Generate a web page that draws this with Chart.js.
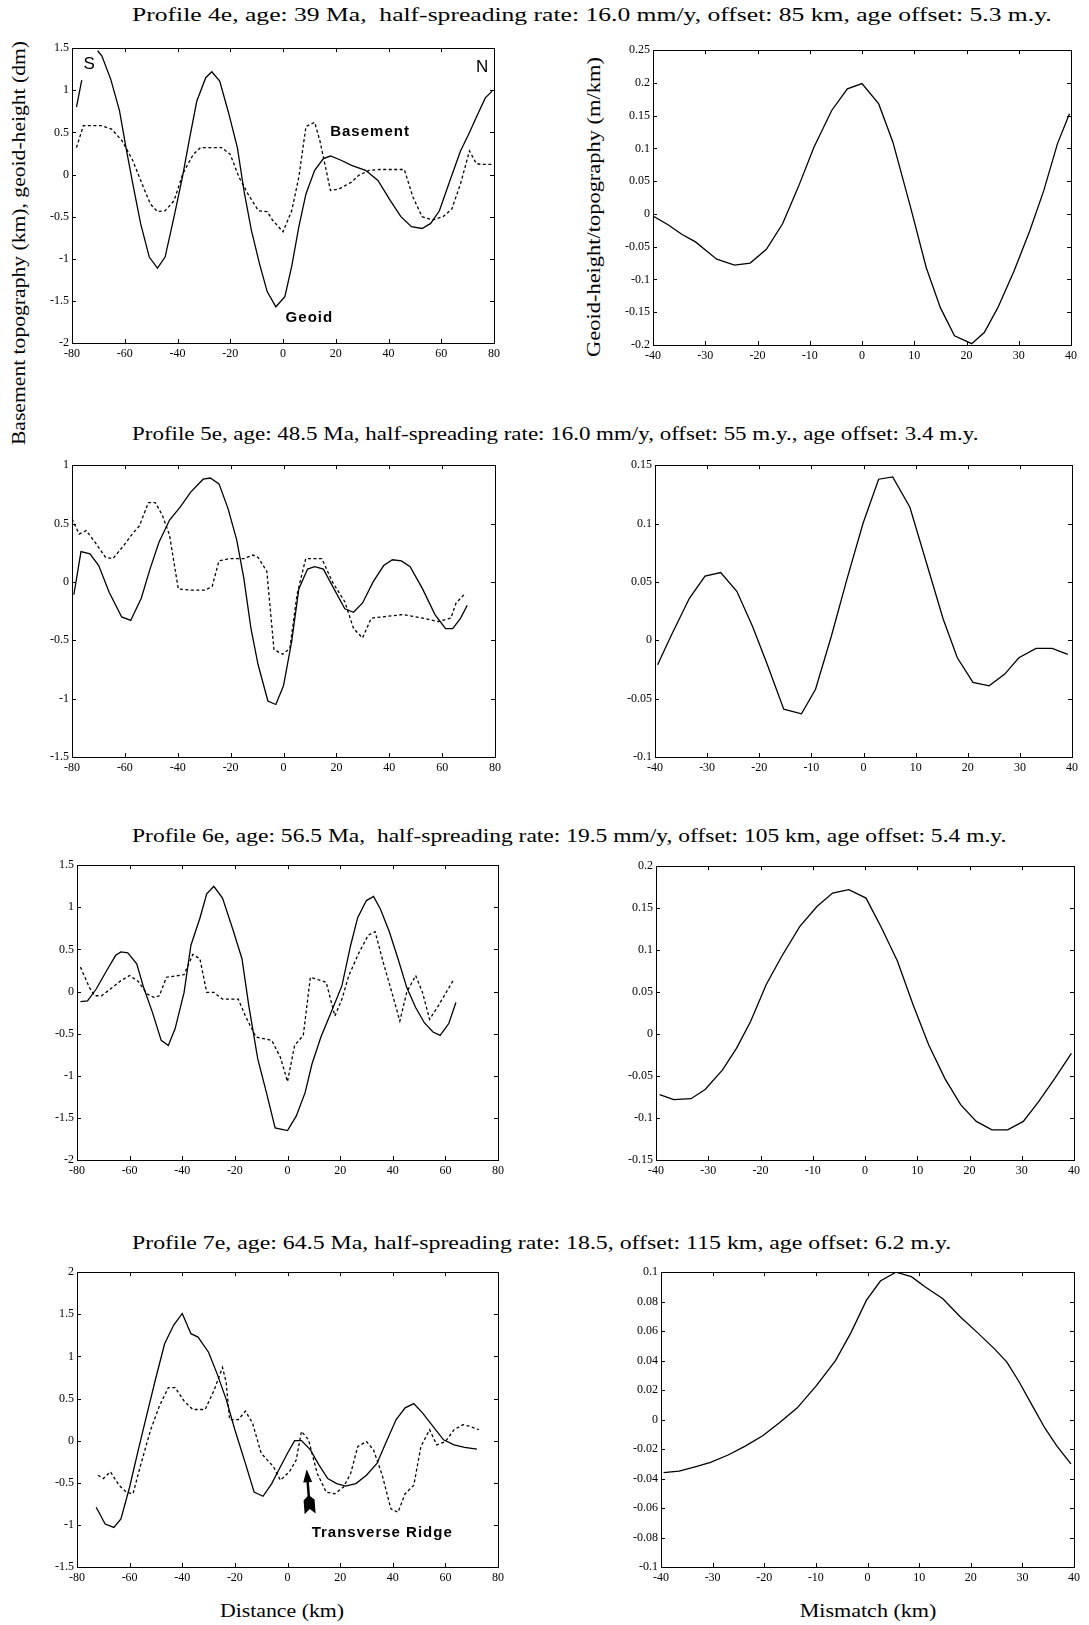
<!DOCTYPE html>
<html>
<head>
<meta charset="utf-8">
<script src="https://cdn.jsdelivr.net/npm/chart.js@4.4.0/dist/chart.umd.min.js"></script>
<style>
  html, body { margin: 0; padding: 0; background: #fff; }
  #page { position: relative; width: 1089px; height: 1625px; overflow: hidden; font-family: 'Liberation Serif', 'Times New Roman', serif; color: #000; }
  .panel { position: absolute; }
  .title { position: absolute; left: 132px; font-size: 19px; white-space: pre; transform-origin: left center; }
  .vlabel { position: absolute; font-size: 19px; white-space: nowrap; }
  .hlabel { position: absolute; font-size: 19px; white-space: nowrap; }
</style>
</head>
<body>
<div id="page">
  <div class="title" data-w="920" style="top:15px">Profile 4e, age: 39 Ma,  half-spreading rate: 16.0 mm/y, offset: 85 km, age offset: 5.3 m.y.</div>
  <div class="title" data-w="847" style="top:434px">Profile 5e, age: 48.5 Ma, half-spreading rate: 16.0 mm/y, offset: 55 m.y., age offset: 3.4 m.y.</div>
  <div class="title" data-w="875" style="top:836px">Profile 6e, age: 56.5 Ma,  half-spreading rate: 19.5 mm/y, offset: 105 km, age offset: 5.4 m.y.</div>
  <div class="title" data-w="819" style="top:1243px">Profile 7e, age: 64.5 Ma, half-spreading rate: 18.5, offset: 115 km, age offset: 6.2 m.y.</div>
  <div class="vlabel" data-w="404" style="left:19px; top:243px">Basement topography (km), geoid-height (dm)</div>
  <div class="vlabel" data-w="300" style="left:594px; top:207px">Geoid-height/topography (m/km)</div>
  <div class="hlabel" data-w="124" style="left:282px; top:1611px">Distance (km)</div>
  <div class="hlabel" data-w="137" style="left:868px; top:1611px">Mismatch (km)</div>
</div>
<script>
// tick values
const distTicks = [-80, -60, -40, -20, 0, 20, 40, 60, 80];
const lagTicks = [-40, -30, -20, -10, 0, 10, 20, 30, 40];
const p4eTopoTicks = [-2, -1.5, -1, -0.5, 0, 0.5, 1, 1.5];
const p4eRatioTicks = [-0.2, -0.15, -0.1, -0.05, 0, 0.05, 0.1, 0.15, 0.2, 0.25];
const p5eTopoTicks = [-1.5, -1, -0.5, 0, 0.5, 1];
const p5eRatioTicks = [-0.1, -0.05, 0, 0.05, 0.1, 0.15];
const p6eTopoTicks = [-2, -1.5, -1, -0.5, 0, 0.5, 1, 1.5];
const p6eRatioTicks = [-0.15, -0.1, -0.05, 0, 0.05, 0.1, 0.15, 0.2];
const p7eTopoTicks = [-1.5, -1, -0.5, 0, 0.5, 1, 1.5, 2];
const p7eRatioTicks = [-0.1, -0.08, -0.06, -0.04, -0.02, 0, 0.02, 0.04, 0.06, 0.08, 0.1];

// Profile 4e
const p4eGeoidKm = [-78.3, -76.3, -74, -70.3, -68.7, -65.3, -62, -59.3, -56.7, -54, -50.7, -47.6, -44.7, -41.3, -38, -35.6, -32.7, -29.3, -27, -24, -20.7, -17.3, -14.7, -12, -8.9, -6, -2.7, 0.7, 3.3, 6, 8.7, 12, 15.3, 18, 22, 26, 31.3, 36, 40.7, 44.7, 48.7, 52.7, 56, 59.3, 63.3, 67.3, 70.7, 73.3, 76.7, 79.3];
const p4eGeoid = [0.80, 1.12, null, 1.47, 1.41, 1.13, 0.76, 0.28, -0.15, -0.58, -0.98, -1.11, -0.98, -0.50, -0.01, 0.40, 0.87, 1.15, 1.22, 1.11, 0.74, 0.32, -0.21, -0.66, -1.06, -1.39, -1.57, -1.45, -1.09, -0.62, -0.23, 0.05, 0.19, 0.22, 0.17, 0.11, 0.05, -0.07, -0.31, -0.50, -0.62, -0.64, -0.58, -0.43, -0.07, 0.28, 0.50, 0.68, 0.91, 0.99];
const p4eBaseKm = [-78.3, -75.7, -69, -65, -61, -57, -53.7, -50.3, -47.6, -44.7, -41.3, -38, -34, -31.3, -23.3, -20, -16.7, -13.3, -9.3, -6, -4, 0, 3.3, 6, 8.7, 12, 14, 18, 21.3, 26, 28.7, 32.7, 36.7, 46, 49.3, 52.7, 56.7, 60.7, 64, 67.3, 70.7, 73.3, 75.3, 79.3];
const p4eBase = [0.32, 0.58, 0.58, 0.54, 0.40, 0.17, -0.09, -0.35, -0.44, -0.43, -0.31, 0.01, 0.24, 0.32, 0.32, 0.24, -0.03, -0.23, -0.43, -0.44, -0.54, -0.68, -0.43, -0.03, 0.57, 0.62, 0.40, -0.19, -0.17, -0.09, -0.01, 0.05, 0.06, 0.06, -0.27, -0.50, -0.54, -0.50, -0.41, -0.11, 0.28, 0.13, 0.12, 0.12];
const p4eLagKm = [-40, -37.2, -34.5, -31.8, -29.8, -27.8, -24.4, -21.4, -18.3, -15.2, -12.2, -9.2, -5.8, -2.8, 0, 3.2, 5.9, 9.3, 12.3, 15, 17.7, 21, 23.4, 26, 29.1, 32.1, 34.8, 37.4, 39.7];
const p4eRatio = [-0.003, -0.016, -0.031, -0.043, -0.056, -0.069, -0.078, -0.075, -0.054, -0.015, 0.041, 0.102, 0.158, 0.191, 0.199, 0.168, 0.110, 0.010, -0.082, -0.143, -0.186, -0.198, -0.181, -0.143, -0.087, -0.026, 0.036, 0.107, 0.153];

// Profile 5e
const p5eGeoidKm = [-79.3, -76.6, -73.2, -69.9, -65.9, -61.2, -57.8, -53.8, -50.5, -47.1, -43.1, -39.1, -35.1, -30.4, -27.7, -24.4, -21, -17.7, -15, -12.3, -9.6, -5.9, -2.9, 0, 3.1, 5.8, 9.1, 11.8, 15.1, 19.1, 23.2, 26.5, 29.9, 33.9, 37.9, 41.2, 44.6, 47.9, 52.6, 57.3, 61.3, 64, 67, 69.5];
const p5eGeoid = [-0.11, 0.26, 0.24, 0.14, -0.09, -0.30, -0.33, -0.14, 0.11, 0.34, 0.53, 0.64, 0.77, 0.88, 0.89, 0.84, 0.63, 0.36, 0.03, -0.40, -0.71, -1.02, -1.05, -0.89, -0.51, -0.06, 0.11, 0.13, 0.11, -0.06, -0.23, -0.26, -0.18, 0.0, 0.14, 0.19, 0.18, 0.13, -0.06, -0.28, -0.40, -0.40, -0.31, -0.20];
const p5eBaseKm = [-80, -77.3, -74.6, -71.3, -67.3, -64.5, -60.5, -57.2, -54.5, -51.1, -48.5, -45.8, -43.1, -39.8, -35.1, -29.7, -27, -24.4, -20.3, -15, -11.6, -9.6, -6.3, -3.6, -0.3, 2.4, 5.1, 8.4, 14.5, 18.5, 23.2, 26.5, 29.9, 33.2, 37.2, 45.2, 52.6, 58.6, 63.3, 65.3, 68.7];
const p5eBase = [0.54, 0.41, 0.44, 0.34, 0.21, 0.20, 0.31, 0.41, 0.48, 0.68, 0.68, 0.57, 0.40, -0.06, -0.07, -0.07, -0.04, 0.18, 0.20, 0.20, 0.23, 0.21, 0.09, -0.58, -0.62, -0.57, -0.11, 0.20, 0.20, 0.0, -0.17, -0.40, -0.48, -0.31, -0.30, -0.28, -0.31, -0.34, -0.31, -0.18, -0.10];
const p5eLagKm = [-39.5, -36.8, -33.4, -30.4, -27.4, -24.3, -21.3, -18.6, -15.3, -11.9, -9.2, -6.2, -3.2, -0.1, 2.9, 5.6, 8.9, 12.3, 15.3, 18, 21, 24.1, 27.1, 29.8, 33.1, 36.2, 39.2];
const p5eRatio = [-0.021, 0.005, 0.036, 0.055, 0.058, 0.042, 0.012, -0.019, -0.059, -0.063, -0.042, 0.003, 0.052, 0.100, 0.138, 0.140, 0.114, 0.063, 0.018, -0.015, -0.036, -0.039, -0.029, -0.015, -0.007, -0.007, -0.012];

// Profile 6e
const p6eGeoidKm = [-78.7, -76, -72.7, -68.7, -65.3, -63.3, -60.7, -57.3, -54.7, -51.3, -48, -45.3, -42.7, -39.3, -36.7, -33.3, -30.7, -28, -24.7, -20.7, -17.3, -14.7, -11.3, -8, -4.7, 0, 3.3, 6.7, 9.3, 12.7, 16, 20.7, 24, 26.7, 30, 32.7, 35.3, 38.7, 42, 45.3, 48.7, 52, 55.3, 58, 61.3, 64];
const p6eGeoid = [-0.12, -0.11, 0.03, 0.25, 0.43, 0.47, 0.46, 0.33, 0.05, -0.25, -0.58, -0.64, -0.44, -0.01, 0.55, 0.87, 1.16, 1.25, 1.11, 0.73, 0.39, -0.17, -0.80, -1.20, -1.62, -1.65, -1.48, -1.20, -0.86, -0.54, -0.29, 0.07, 0.55, 0.88, 1.08, 1.13, 0.98, 0.71, 0.39, 0.05, -0.19, -0.37, -0.48, -0.52, -0.38, -0.13];
const p6eBaseKm = [-78.7, -75.3, -73.3, -70.7, -67.3, -63.3, -60, -56.7, -53.3, -50.7, -48.7, -46, -39.3, -36, -33.3, -30.7, -28, -24.7, -18.7, -16, -12, -6, -2.7, 0, 2.7, 6, 8.7, 14.7, 18, 20.7, 23.3, 27.3, 30.7, 33.3, 36.7, 39.3, 42.7, 45.3, 48.7, 51.3, 54, 57.3, 60.7, 63.3];
const p6eBase = [0.29, 0.05, -0.05, -0.05, 0.03, 0.13, 0.19, 0.12, -0.03, -0.07, -0.05, 0.17, 0.20, 0.44, 0.39, -0.01, -0.01, -0.09, -0.09, -0.29, -0.54, -0.58, -0.78, -1.07, -0.64, -0.52, 0.17, 0.11, -0.29, -0.09, 0.19, 0.47, 0.67, 0.71, 0.31, 0.03, -0.35, -0.01, 0.19, -0.01, -0.33, -0.17, 0.01, 0.15];
const p6eLagKm = [-39.3, -36.6, -33.3, -30.6, -27.3, -24.6, -21.9, -18.9, -15.9, -12.5, -9.2, -6.2, -3.1, 0.2, 3.2, 6.2, 9.2, 12.2, 15.3, 18.3, 21.3, 24.3, 27.3, 30.3, 33.3, 36.3, 39.5];
const p6eRatio = [-0.072, -0.078, -0.077, -0.066, -0.043, -0.017, 0.015, 0.059, 0.093, 0.128, 0.152, 0.168, 0.172, 0.162, 0.126, 0.087, 0.035, -0.013, -0.053, -0.084, -0.104, -0.114, -0.114, -0.104, -0.080, -0.053, -0.023];

// Profile 7e
const p7eGeoidKm = [-72.7, -69.3, -66, -63.3, -60, -56.7, -53.3, -50, -46.7, -43.3, -40, -36.7, -34, -30, -26.7, -23.3, -20, -16, -12.7, -9.3, -6, -2.7, 0, 2.7, 5.3, 8.7, 12, 15.3, 18.7, 22, 26, 30, 34, 37.3, 41.3, 44.7, 48, 51.3, 55.3, 59.3, 63.3, 67.3, 72];
const p7eGeoid = [-0.79, -0.99, -1.03, -0.93, -0.55, -0.11, 0.33, 0.75, 1.15, 1.37, 1.51, 1.27, 1.23, 1.05, 0.79, 0.49, 0.13, -0.27, -0.61, -0.66, -0.51, -0.31, -0.15, 0.0, 0.0, -0.11, -0.29, -0.45, -0.51, -0.54, -0.51, -0.41, -0.27, -0.03, 0.25, 0.39, 0.44, 0.33, 0.17, 0.01, -0.05, -0.08, -0.10];
const p7eBaseKm = [-72, -70, -67.3, -64, -61.3, -58.7, -56, -52, -48.7, -45.3, -42.7, -39.3, -36, -31.3, -28, -24.7, -23.3, -22, -18.7, -16, -13.3, -10, -5.3, -2.7, 0.7, 3.3, 5.3, 8, 11.3, 14.7, 18, 21.3, 24, 26.7, 30, 32.7, 36, 39.3, 42, 44.7, 48, 50.7, 54, 56.7, 60, 63.3, 66.7, 69.3, 72.7];
const p7eBase = [-0.41, -0.45, -0.37, -0.53, -0.61, -0.63, -0.31, 0.13, 0.41, 0.63, 0.63, 0.47, 0.37, 0.37, 0.59, 0.87, 0.69, 0.25, 0.25, 0.35, 0.21, -0.15, -0.31, -0.47, -0.37, -0.23, 0.11, 0.01, -0.39, -0.61, -0.63, -0.55, -0.39, -0.07, -0.01, -0.11, -0.41, -0.81, -0.85, -0.63, -0.53, -0.07, 0.13, -0.05, -0.01, 0.13, 0.19, 0.17, 0.13];
const p7eLagKm = [-39.5, -36.5, -33.4, -30.4, -27, -23.7, -20.3, -17, -13.6, -9.9, -6.2, -3.2, -0.2, 2.5, 5.5, 8.5, 11.2, 14.6, 17.9, 21.3, 24.6, 27, 29.3, 32, 34.4, 36.7, 39.4];
const p7eRatio = [-0.036, -0.035, -0.032, -0.029, -0.024, -0.018, -0.011, -0.002, 0.008, 0.023, 0.040, 0.059, 0.081, 0.094, 0.100, 0.097, 0.090, 0.082, 0.070, 0.059, 0.048, 0.039, 0.026, 0.009, -0.006, -0.018, -0.030];

const PAD = { l: 40, t: 10, r: 12, b: 22 };
const fmt = v => String(Number(Number(v).toFixed(3)));
const zip = (xs, ys) => xs.map((x, i) => ({ x: x, y: ys[i] }));

// the serif captions are set wide; stretch each one to its measured width
document.querySelectorAll('[data-w]').forEach(el => {
  const k = Number(el.dataset.w) / el.offsetWidth;
  if (el.classList.contains('title')) el.style.transform = `translateY(-50%) scaleX(${k})`;
  else if (el.classList.contains('vlabel')) el.style.transform = `translate(-50%, -50%) rotate(-90deg) scaleX(${k})`;
  else el.style.transform = `translate(-50%, -50%) scaleX(${k})`;
});

// box, inner ticks on all four sides, text labels and the ridge arrow
const framePlugin = {
  id: 'frame',
  afterDatasetsDraw(chart, args, opts) {
    const { ctx, chartArea: a, scales: { x, y } } = chart;
    ctx.save();
    ctx.strokeStyle = '#000';
    ctx.lineWidth = 1;
    ctx.strokeRect(Math.round(a.left) + 0.5, Math.round(a.top) + 0.5, Math.round(a.width), Math.round(a.height));
    ctx.beginPath();
    x.ticks.forEach(t => {
      const px = Math.round(x.getPixelForValue(t.value)) + 0.5;
      ctx.moveTo(px, a.bottom); ctx.lineTo(px, a.bottom - 4);
      ctx.moveTo(px, a.top); ctx.lineTo(px, a.top + 4);
    });
    y.ticks.forEach(t => {
      const py = Math.round(y.getPixelForValue(t.value)) + 0.5;
      ctx.moveTo(a.left, py); ctx.lineTo(a.left + 4, py);
      ctx.moveTo(a.right, py); ctx.lineTo(a.right - 4, py);
    });
    ctx.stroke();

    (opts.marks || []).forEach(m => {
      ctx.font = m.font;
      ctx.fillStyle = '#000';
      ctx.textAlign = 'center';
      ctx.textBaseline = 'middle';
      if ('letterSpacing' in ctx) ctx.letterSpacing = (m.spacing || 0) + 'px';
      ctx.fillText(m.text, x.getPixelForValue(m.x), y.getPixelForValue(m.y));
      if ('letterSpacing' in ctx) ctx.letterSpacing = '0px';
    });

    if (opts.arrow) {
      const ar = opts.arrow;
      const tx = x.getPixelForValue(ar.tip[0]), ty = y.getPixelForValue(ar.tip[1]);
      const bx = x.getPixelForValue(ar.tail[0]), by = y.getPixelForValue(ar.tail[1]);
      const len = Math.hypot(tx - bx, ty - by);
      const ux = (tx - bx) / len, uy = (ty - by) / len;
      const nx = -uy, ny = ux;
      const P = (s, n) => [bx + ux * s + nx * n, by + uy * s + ny * n];
      ctx.fillStyle = '#000';
      // shaft
      ctx.lineWidth = 2.5;
      ctx.beginPath();
      ctx.moveTo(...P(10, 0)); ctx.lineTo(...P(len - 10, 0));
      ctx.stroke();
      // head
      ctx.beginPath();
      ctx.moveTo(...P(len, 0)); ctx.lineTo(...P(len - 13, 4.5)); ctx.lineTo(...P(len - 13, -4.5));
      ctx.closePath(); ctx.fill();
      // fletching
      ctx.beginPath();
      ctx.moveTo(...P(0, 5.5)); ctx.lineTo(...P(5, 0)); ctx.lineTo(...P(0, -5.5));
      ctx.lineTo(...P(14, -5.5)); ctx.lineTo(...P(19, 0)); ctx.lineTo(...P(14, 5.5));
      ctx.closePath(); ctx.fill();
    }
    ctx.restore();
  }
};
Chart.register(framePlugin);

function axis(ticks, isX) {
  return {
    type: 'linear',
    min: ticks[0],
    max: ticks[ticks.length - 1],
    afterBuildTicks: s => { s.ticks = ticks.map(v => ({ value: v })); },
    afterFit: s => { if (isX) s.height = PAD.b; else s.width = PAD.l; },
    grid: { display: false, drawTicks: false },
    border: { display: false },
    ticks: {
      autoSkip: false,
      maxRotation: 0,
      padding: isX ? 4 : 3,
      color: '#000',
      font: { family: "'Liberation Serif', serif", size: 12 },
      callback: fmt
    }
  };
}

function makePanel(box, xTicks, yTicks, series, extra) {
  const w = box.r - box.l + PAD.l + PAD.r;
  const h = box.b - box.t + PAD.t + PAD.b;
  const div = document.createElement('div');
  div.className = 'panel';
  div.style.left = (box.l - PAD.l) + 'px';
  div.style.top = (box.t - PAD.t) + 'px';
  const cv = document.createElement('canvas');
  cv.width = w; cv.height = h;
  div.appendChild(cv);
  document.getElementById('page').appendChild(div);

  new Chart(cv, {
    type: 'line',
    data: {
      datasets: series.map(s => ({
        label: s.label,
        data: zip(s.xs, s.ys),
        borderColor: '#000',
        borderWidth: 1.3,
        borderDash: s.dashed ? [3, 2.5] : [],
        pointRadius: 0,
        tension: 0,
        fill: false,
        spanGaps: false
      }))
    },
    options: {
      responsive: false,
      animation: false,
      layout: { padding: { top: PAD.t, right: PAD.r, left: 0, bottom: 0 }, autoPadding: false },
      plugins: {
        legend: { display: false },
        tooltip: { enabled: false },
        frame: extra || {}
      },
      scales: { x: axis(xTicks, true), y: axis(yTicks, false) }
    }
  });
}

const boldLabel = "bold 15px 'Liberation Sans', Arial, sans-serif";
const plainLabel = "17px 'Liberation Sans', Arial, sans-serif";

makePanel({ l: 72, t: 48, r: 494, b: 343 }, distTicks, p4eTopoTicks, [
  { label: 'Geoid', xs: p4eGeoidKm, ys: p4eGeoid },
  { label: 'Basement', xs: p4eBaseKm, ys: p4eBase, dashed: true }
], {
  marks: [
    { text: 'S', x: -73.5, y: 1.31, font: plainLabel },
    { text: 'N', x: 75.5, y: 1.27, font: plainLabel },
    { text: 'Basement', x: 33, y: 0.51, font: boldLabel, spacing: 1 },
    { text: 'Geoid', x: 10, y: -1.7, font: boldLabel, spacing: 1 }
  ]
});
makePanel({ l: 653, t: 50, r: 1071, b: 345 }, lagTicks, p4eRatioTicks, [
  { label: 'Ratio', xs: p4eLagKm, ys: p4eRatio }
]);

makePanel({ l: 72, t: 465, r: 495, b: 757 }, distTicks, p5eTopoTicks, [
  { label: 'Geoid', xs: p5eGeoidKm, ys: p5eGeoid },
  { label: 'Basement', xs: p5eBaseKm, ys: p5eBase, dashed: true }
]);
makePanel({ l: 655, t: 465, r: 1072, b: 757 }, lagTicks, p5eRatioTicks, [
  { label: 'Ratio', xs: p5eLagKm, ys: p5eRatio }
]);

makePanel({ l: 77, t: 865, r: 498, b: 1160 }, distTicks, p6eTopoTicks, [
  { label: 'Geoid', xs: p6eGeoidKm, ys: p6eGeoid },
  { label: 'Basement', xs: p6eBaseKm, ys: p6eBase, dashed: true }
]);
makePanel({ l: 656, t: 866, r: 1074, b: 1160 }, lagTicks, p6eRatioTicks, [
  { label: 'Ratio', xs: p6eLagKm, ys: p6eRatio }
]);

makePanel({ l: 77, t: 1272, r: 498, b: 1567 }, distTicks, p7eTopoTicks, [
  { label: 'Geoid', xs: p7eGeoidKm, ys: p7eGeoid },
  { label: 'Basement', xs: p7eBaseKm, ys: p7eBase, dashed: true }
], {
  marks: [{ text: 'Transverse Ridge', x: 36, y: -1.1, font: boldLabel, spacing: 1 }],
  arrow: { tip: [7.3, -0.34], tail: [8.6, -0.87] }
});
makePanel({ l: 661, t: 1272, r: 1074, b: 1567 }, lagTicks, p7eRatioTicks, [
  { label: 'Ratio', xs: p7eLagKm, ys: p7eRatio }
]);
</script>
</body>
</html>
